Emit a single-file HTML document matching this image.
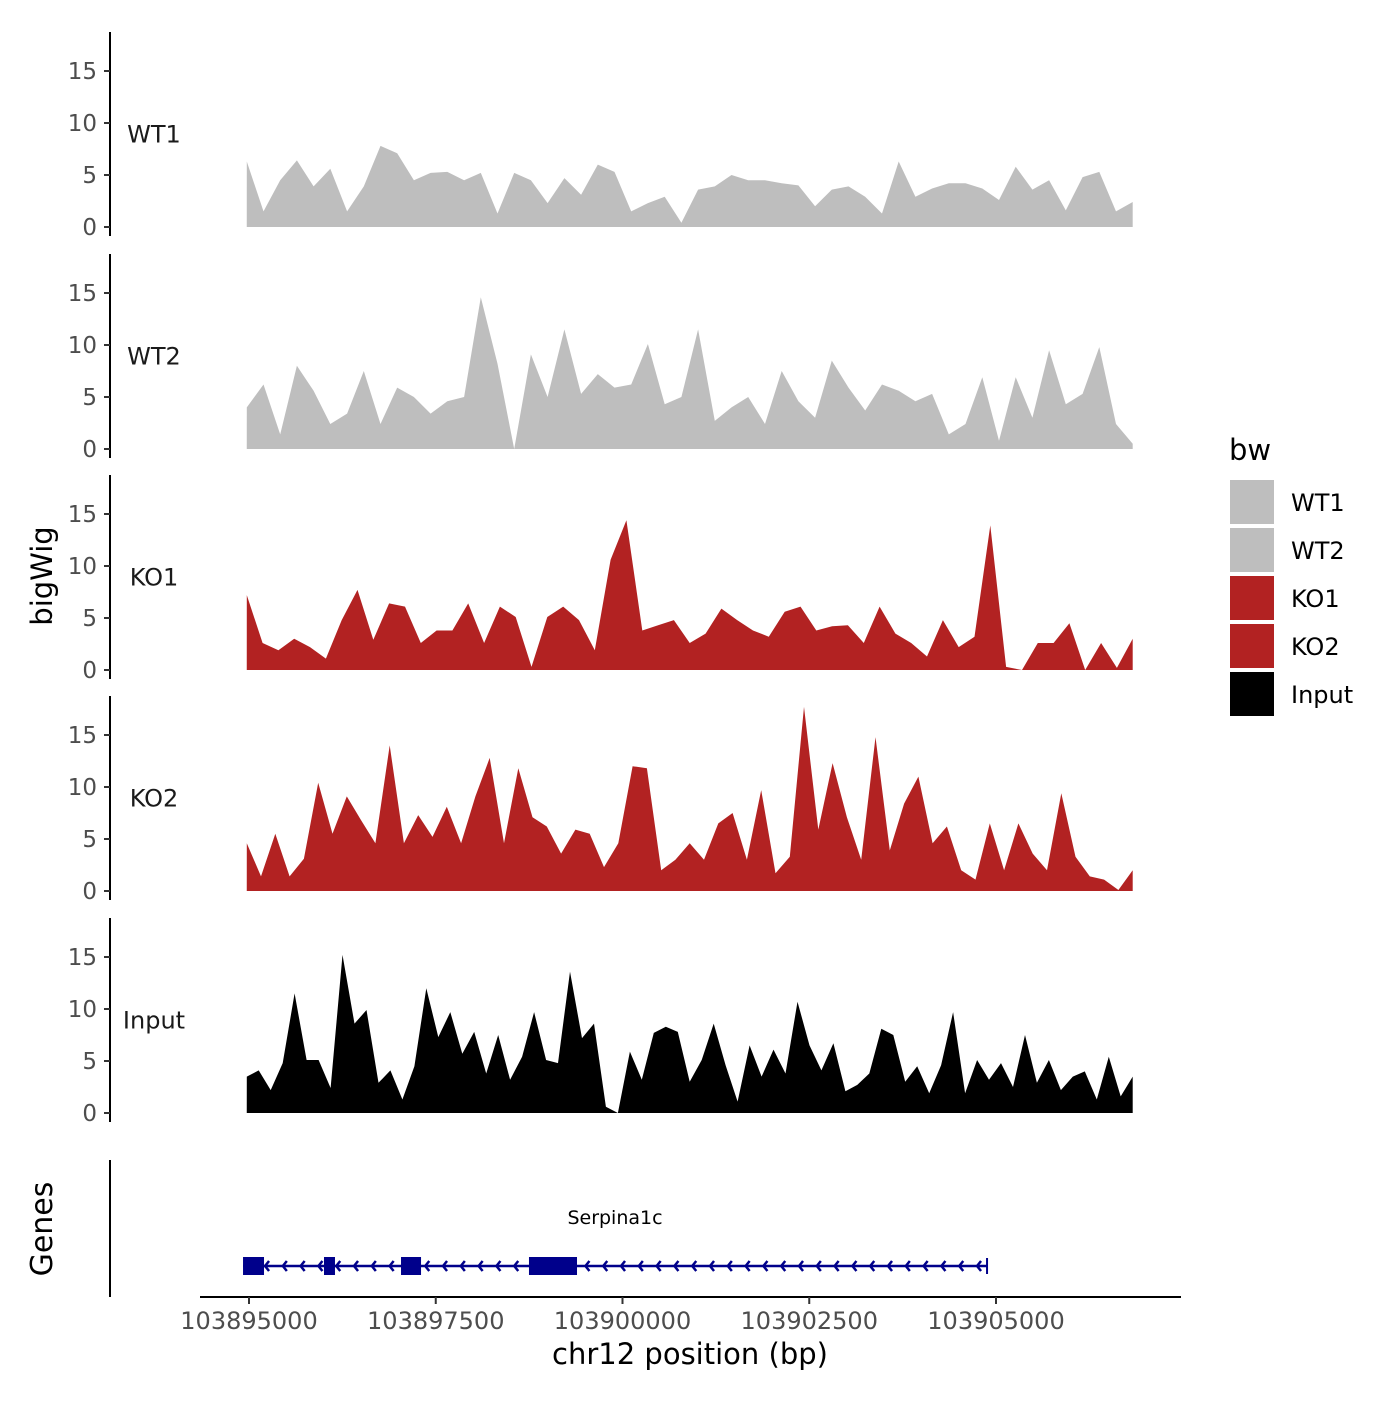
<!DOCTYPE html>
<html><head><meta charset="utf-8"><style>
body{margin:0;background:#fff;}
svg text{font-family:"DejaVu Sans","Liberation Sans",sans-serif;}
</style></head><body>
<svg id="chart" width="1400" height="1400" viewBox="0 0 1400 1400" xmlns="http://www.w3.org/2000/svg">
<rect width="1400" height="1400" fill="#fff"/>
<g id="tracks"></g>
<g id="genes"></g>
<g id="xaxis"></g>
<text x="0" y="0" transform="translate(52,576) rotate(-90)" font-size="29" text-anchor="middle" fill="#000">bigWig</text>
<text x="0" y="0" transform="translate(52,1229) rotate(-90)" font-size="30" text-anchor="middle" fill="#000">Genes</text>
<text x="690" y="1364" font-size="29" text-anchor="middle" fill="#000">chr12 position (bp)</text>
<g id="legend"></g>
</svg>
<script>
const trackNames = ["WT1","WT2","KO1","KO2","Input"];
const trackColors = ["#bebebe","#bebebe","#b22222","#b22222","#000000"];
const wt1Values = [6.3,1.5,4.5,6.4,3.9,5.6,1.5,3.9,7.8,7.1,4.5,5.2,5.3,4.5,5.2,1.3,5.2,4.5,2.3,4.7,3.1,6.0,5.3,1.5,2.3,2.9,0.4,3.6,3.9,5.0,4.5,4.5,4.2,4.0,2.0,3.6,3.9,2.9,1.3,6.3,2.9,3.7,4.2,4.2,3.7,2.6,5.8,3.6,4.5,1.6,4.8,5.3,1.5,2.4];
const wt2Values = [4.0,6.2,1.4,8.0,5.6,2.4,3.4,7.5,2.4,5.9,5.0,3.4,4.6,5.0,14.6,8.2,0,9.1,5.0,11.5,5.3,7.2,5.9,6.2,10.1,4.3,5.0,11.5,2.7,4.0,5.0,2.4,7.5,4.6,3.0,8.5,5.9,3.7,6.2,5.6,4.6,5.3,1.4,2.4,6.9,0.8,6.9,3.0,9.5,4.3,5.3,9.8,2.4,0.5];
const ko1Values = [7.2,2.6,1.9,3.0,2.2,1.1,4.8,7.7,2.9,6.4,6.1,2.6,3.8,3.8,6.4,2.6,6.1,5.1,0.3,5.1,6.1,4.8,1.9,10.6,14.4,3.8,4.3,4.8,2.6,3.5,5.9,4.8,3.8,3.2,5.6,6.1,3.8,4.2,4.3,2.6,6.1,3.5,2.6,1.3,4.8,2.2,3.2,13.9,0.3,0,2.6,2.6,4.5,0,2.6,0.2,3.0];
const ko2Values = [4.6,1.4,5.5,1.4,3.1,10.4,5.5,9.1,6.8,4.6,14.0,4.6,7.3,5.2,8.1,4.6,9.1,12.8,4.6,11.8,7.1,6.2,3.6,5.9,5.5,2.3,4.6,12.0,11.8,2.0,3.0,4.6,3.0,6.5,7.5,3.0,9.7,1.7,3.3,17.7,5.9,12.3,7.1,3.0,14.8,3.9,8.4,11.0,4.6,6.2,2.0,1.1,6.5,2.0,6.5,3.6,2.0,9.4,3.3,1.4,1.1,0.1,2.0];
const inputValues = [3.5,4.1,2.2,4.8,11.5,5.1,5.1,2.4,15.2,8.6,9.9,2.9,4.1,1.3,4.5,12.0,7.3,9.7,5.7,7.8,3.8,7.5,3.2,5.4,9.7,5.1,4.8,13.6,7.2,8.6,0.6,0,5.9,3.2,7.7,8.3,7.8,3.0,5.1,8.6,4.6,1.1,6.5,3.5,6.1,3.8,10.7,6.5,4.1,6.7,2.1,2.7,3.8,8.1,7.5,3.0,4.5,1.9,4.6,9.7,1.9,5.1,3.2,4.8,2.5,7.5,2.9,5.1,2.2,3.5,4.0,1.3,5.4,1.6,3.5];
const yTicks = [0,5,10,15];
const xTicks = [103895000,103897500,103900000,103902500,103905000];
const exonStarts = [103894920,103896004,103897035,103898748];
const exonEnds = [103895201,103896151,103897303,103899391];
const geneStart = 103894920, geneEnd = 103904880;
const dataStart = 103894970, dataEnd = 103906830;

const NS="http://www.w3.org/2000/svg";
function mk(tag,attrs,parent){const e=document.createElementNS(NS,tag);for(const k in attrs)e.setAttribute(k,attrs[k]);parent.appendChild(e);return e;}
const xScale = bp => 249 + (bp-103895000)*(747/10000);
const panelZero = [227,449,670,891,1113];
const yScale = (v,i) => panelZero[i] - v*10.4;
const series = [wt1Values,wt2Values,ko1Values,ko2Values,inputValues];
const tracks = document.getElementById('tracks');

series.forEach((vals,i)=>{
  const g = mk('g',{},tracks);
  
  
  const top = panelZero[i]-195, bot = panelZero[i]+9;
  const ax = mk('line',{x1:110,x2:110,y1:top,y2:bot,stroke:'#000','stroke-width':2},g);
  
  
  yTicks.forEach(t=>{
    const y=yScale(t,i);
    const tk = mk('line',{x1:104,x2:110,y1:y,y2:y,stroke:'#333','stroke-width':2},g);
    
    
    const tl = mk('text',{x:97,y:y+8,'font-size':23,'text-anchor':'end',fill:'#4d4d4d'},g);
    
    
    tl.textContent=t;
  });
  const n=vals.length;
  let d='M'+xScale(dataStart)+','+panelZero[i];
  vals.forEach((v,k)=>{const bp=dataStart+(dataEnd-dataStart)*k/(n-1);d+=' L'+xScale(bp).toFixed(1)+','+yScale(v,i).toFixed(1);});
  d+=' L'+xScale(dataEnd)+','+panelZero[i]+' Z';
  const area = mk('path',{d:d,fill:trackColors[i]},g);
  
  
  const lab = mk('text',{x:154,y:yScale(9,i)+9,'font-size':24,'text-anchor':'middle',fill:'#1a1a1a'},g);
  
  
  lab.textContent=trackNames[i];
});

// genes
const gg=document.getElementById('genes');
const gAx = mk('line',{x1:110,x2:110,y1:1160,y2:1297,stroke:'#000','stroke-width':2},gg);


const gy=1266;
const gl = mk('line',{x1:xScale(geneStart),x2:xScale(geneEnd),y1:gy,y2:gy,stroke:'#00008b','stroke-width':2.5},gg);


const ge = mk('line',{x1:xScale(geneEnd),x2:xScale(geneEnd),y1:gy-8,y2:gy+8,stroke:'#00008b','stroke-width':2},gg);


for(let x=xScale(geneEnd)-10;x>xScale(geneStart)+10;x-=17.8){
  const a = mk('polyline',{points:(x+4)+','+(gy-5)+' '+x+','+gy+' '+(x+4)+','+(gy+5),fill:'none',stroke:'#00008b','stroke-width':2.5},gg);
  
  
}
exonStarts.forEach((s,k)=>{
  const r = mk('rect',{x:xScale(s),y:gy-9,width:xScale(exonEnds[k])-xScale(s),height:18,fill:'#00008b'},gg);
  
  
});
const gt = mk('text',{x:615,y:1224,'font-size':19,'text-anchor':'middle',fill:'#000'},gg);


gt.textContent='Serpina1c';

// x axis
const xa=document.getElementById('xaxis');
const xl = mk('line',{x1:200,x2:1181,y1:1297,y2:1297,stroke:'#000','stroke-width':2},xa);


xTicks.forEach(t=>{
  const x=xScale(t);
  const tk = mk('line',{x1:x,x2:x,y1:1297,y2:1304,stroke:'#333','stroke-width':2},xa);
  
  
  const tl = mk('text',{x:x,y:1329,'font-size':24,'text-anchor':'middle',fill:'#4d4d4d'},xa);
  
  
  tl.textContent=t;
});

// legend
const lg=document.getElementById('legend');
const lt = mk('text',{x:1229,y:460,'font-size':29,fill:'#000'},lg);


lt.textContent='bw';
trackNames.forEach((nm,i)=>{
  const y=480+i*48;
  const r = mk('rect',{x:1230,y:y,width:44,height:44,fill:trackColors[i]},lg);
  
  
  const t = mk('text',{x:1291,y:y+31,'font-size':24,fill:'#000'},lg);
  
  
  t.textContent=nm;
});
</script>
</body></html>
